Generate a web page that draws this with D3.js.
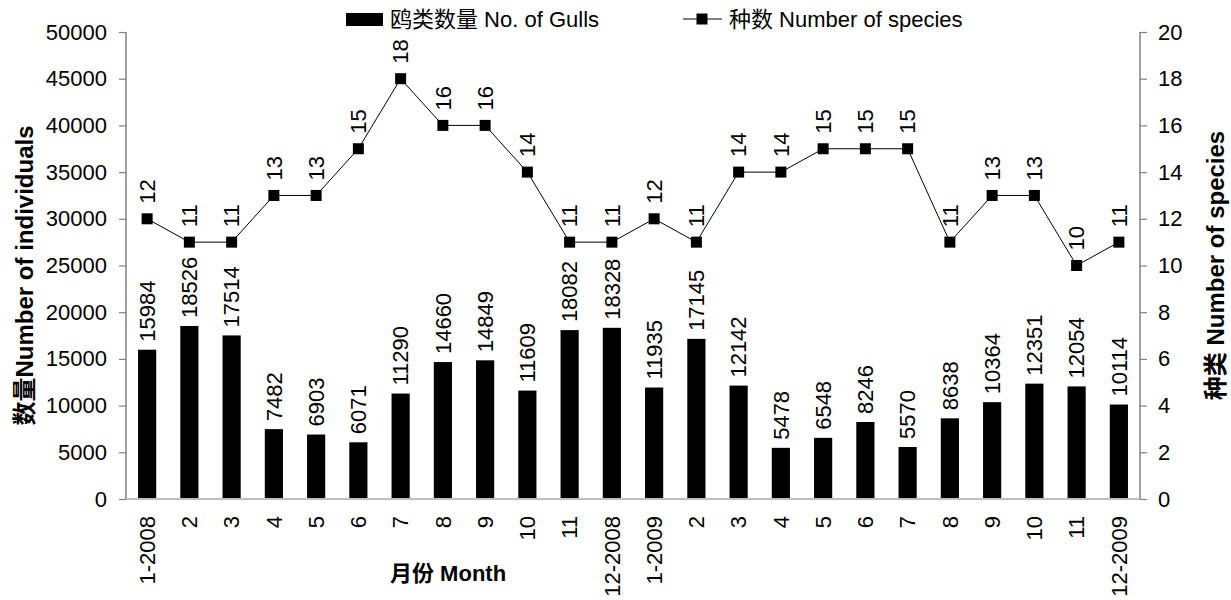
<!DOCTYPE html>
<html>
<head>
<meta charset="utf-8">
<script src="https://cdn.jsdelivr.net/npm/d3@7"></script>
<style>
  body { margin: 0; background: #fff; }
  svg text { font-family: "Liberation Sans", Arial, "Noto Sans CJK SC", sans-serif; fill: #000; }
</style>
</head>
<body>
<svg id="chart" width="1231" height="600"></svg>
<script>
// Monthly gull survey, Jan 2008 – Dec 2009
const months = ["1-2008","2","3","4","5","6","7","8","9","10","11","12-2008",
                "1-2009","2","3","4","5","6","7","8","9","10","11","12-2009"];
const gullCounts = [15984,18526,17514,7482,6903,6071,11290,14660,14849,11609,18082,18328,
                    11935,17145,12142,5478,6548,8246,5570,8638,10364,12351,12054,10114];
const speciesCounts = [12,11,11,13,13,15,18,16,16,14,11,11,
                       12,11,14,14,15,15,15,11,13,13,10,11];
const leftTicks = d3.range(0, 50001, 5000);
const rightTicks = d3.range(0, 21, 2);

const svg = d3.select("#chart");
const plotL = 126, plotR = 1140, plotT = 32, plotB = 499;
const fs = 22;
const idx = months.map((_, i) => i);

const x = d3.scaleBand().domain(idx).range([plotL, plotR]);
const yL = d3.scaleLinear().domain([0, 50000]).range([plotB, plotT]);
const yR = d3.scaleLinear().domain([0, 20]).range([plotB, plotT]);
const barW = x.bandwidth() * 0.43;
const cx = i => x(i) + x.bandwidth() / 2;

// bars
svg.append("g").selectAll("rect").data(gullCounts).join("rect")
  .attr("x", (d, i) => cx(i) - barW / 2)
  .attr("y", d => yL(d))
  .attr("width", barW)
  .attr("height", d => plotB - yL(d))
  .attr("fill", "#000");

// bar value labels
svg.append("g").selectAll("text").data(gullCounts).join("text")
  .attr("transform", (d, i) => `translate(${cx(i)},${yL(d) - 8}) rotate(-90)`)
  .attr("dy", "0.35em")
  .attr("font-size", fs)
  .text(d => d);

// axes
const axisGray = "#808080";
const gL = svg.append("g").attr("transform", `translate(${plotL},0)`)
  .call(d3.axisLeft(yL).tickValues(leftTicks).tickSize(7).tickPadding(12).tickFormat(d3.format("d")));
const gR = svg.append("g").attr("transform", `translate(${plotR},0)`)
  .call(d3.axisRight(yR).tickValues(rightTicks).tickSize(7).tickPadding(11).tickFormat(d3.format("d")));
[gL, gR].forEach(g => {
  g.select(".domain").attr("stroke", axisGray).attr("stroke-width", 1.5).attr("d", `M0,${plotT}V${plotB}`);
  g.selectAll(".tick line").attr("stroke", axisGray).attr("stroke-width", 1.2);
  g.selectAll(".tick text").attr("font-size", fs).attr("fill", "#000")
    .style("font-family", '"Liberation Sans", Arial, sans-serif');
});

const gX = svg.append("g").attr("transform", `translate(0,${plotB})`)
  .call(d3.axisBottom(x).tickSize(0).tickFormat(i => months[i]));
gX.select(".domain").attr("stroke", "#bfbfbf").attr("stroke-width", 2).attr("d", `M${plotL},0H${plotR}`);
gX.selectAll(".tick text")
  .attr("font-size", fs).attr("fill", "#000")
  .style("font-family", '"Liberation Sans", Arial, sans-serif')
  .attr("text-anchor", "end")
  .attr("transform", "translate(0,17) rotate(-90)")
  .attr("x", 0).attr("y", 0).attr("dy", "0.35em");

// species line
const line = d3.line().x((d, i) => cx(i)).y(d => yR(d));
svg.append("path").datum(speciesCounts)
  .attr("d", line).attr("fill", "none").attr("stroke", "#000").attr("stroke-width", 1);
const mk = 11;
svg.append("g").selectAll("rect").data(speciesCounts).join("rect")
  .attr("x", (d, i) => cx(i) - mk / 2)
  .attr("y", d => yR(d) - mk / 2)
  .attr("width", mk).attr("height", mk).attr("fill", "#000");
svg.append("g").selectAll("text").data(speciesCounts).join("text")
  .attr("transform", (d, i) => `translate(${cx(i)},${yR(d) - 15}) rotate(-90)`)
  .attr("dy", "0.35em")
  .attr("font-size", fs)
  .text(d => d);

// axis titles
svg.append("text")
  .attr("transform", `translate(33,${(plotT + plotB) / 2 + 10}) rotate(-90)`)
  .attr("text-anchor", "middle").attr("font-size", 24).attr("font-weight", "bold")
  .text("数量Number of individuals");
svg.append("text")
  .attr("transform", `translate(1224,${(plotT + plotB) / 2}) rotate(-90)`)
  .attr("text-anchor", "middle").attr("font-size", 24).attr("font-weight", "bold")
  .text("种类 Number of species");
svg.append("text")
  .attr("x", 390).attr("y", 581)
  .attr("font-size", fs).attr("font-weight", "bold")
  .text("月份 Month");

// legend
const lg = svg.append("g");
lg.append("rect").attr("x", 346).attr("y", 13).attr("width", 37).attr("height", 13).attr("fill", "#000");
lg.append("text").attr("x", 390).attr("y", 27).attr("font-size", fs).text("鸥类数量 No. of Gulls");
lg.append("line").attr("x1", 683).attr("x2", 722).attr("y1", 19).attr("y2", 19)
  .attr("stroke", "#000").attr("stroke-width", 1);
lg.append("rect").attr("x", 702 - mk / 2).attr("y", 19 - mk / 2).attr("width", mk).attr("height", mk).attr("fill", "#000");
lg.append("text").attr("x", 729).attr("y", 27).attr("font-size", fs).text("种数 Number of species");
</script>
</body>
</html>
